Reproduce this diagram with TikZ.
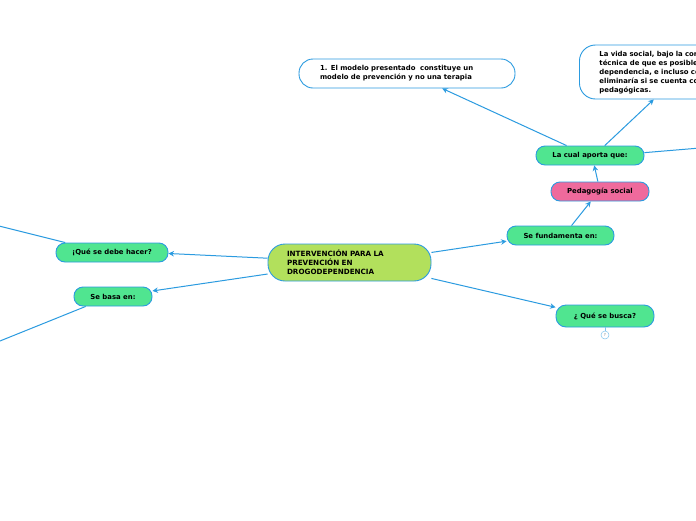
\documentclass[tikz,border=0pt]{standalone}
\usepackage{fontspec}
\setmainfont{DejaVu Sans}
\usetikzlibrary{arrows.meta}
\definecolor{lineblue}{HTML}{2B9BE0}
\definecolor{boxgreen}{HTML}{50E590}
\definecolor{boxlime}{HTML}{B2E05C}
\definecolor{boxpink}{HTML}{EF6A9C}
\begin{document}
\begin{tikzpicture}[x=1pt,y=-1pt,
  every node/.style={font=\bfseries\fontsize{6.9}{9}\selectfont, inner sep=0pt},
  base/.style={draw=lineblue, line width=0.9pt, rounded corners=9pt},
  gbox/.style={base, fill=boxgreen},
  pbox/.style={base, fill=boxpink},
  wbox/.style={base, fill=white, rounded corners=14pt, align=left},
  conn/.style={draw=lineblue, line width=1pt, -{Stealth[length=5.5pt,width=5.5pt]}},
  plain/.style={draw=lineblue, line width=1pt}]
\useasboundingbox (0,0) rectangle (696,520);
\fill[white] (0,0) rectangle (696,520);

\node[base, fill=boxlime, rounded corners=17pt, minimum width=163pt, minimum height=37pt, text width=125pt, align=left] (c) at (349.5,262.5)
  {\fontsize{7.2}{9}\selectfont INTERVENCIÓN PARA LA\\PREVENCIÓN EN\\DROGODEPENDENCIA};

\node[wbox, minimum width=216pt, minimum height=29pt, text width=174pt] (mod) at (407,73.5)
  {1. El modelo presentado\ \ constituye un\\modelo de prevención y no una terapia};

\node[wbox, anchor=west, rounded corners=16pt, minimum width=230pt, minimum height=54pt, text width=190pt] (vida) at (579,72)
  {La vida social, bajo la concepción\\técnica de que es posible reducir la\\dependencia, e incluso con el tiempo\\eliminaría si se cuenta con medidas\\pedagógicas.};

\node[gbox, minimum width=108pt, minimum height=19pt] (lca) at (590,155.5) {La cual aporta que:};
\node[pbox, minimum width=98pt, minimum height=19pt] (ped) at (600,191.5) {Pedagogía social};
\node[gbox, minimum width=107pt, minimum height=19pt] (sf) at (560.5,235.5) {Se fundamenta en:};
\node[gbox, minimum width=98pt, minimum height=22pt, rounded corners=10pt] (qb) at (605,316) {¿ Qué se busca?};
\node[gbox, minimum width=112pt, minimum height=19pt] (dh) at (112,252.5) {¡Qué se debe hacer?};
\node[gbox, minimum width=78pt, minimum height=19pt] (sb) at (113,296.5) {Se basa en:};

\node[circle, draw=lineblue!60, fill=white, line width=0.5pt, minimum size=8pt, font=\fontsize{4}{4}\selectfont, text=gray] (q) at (605,335) {?};
\draw[draw=lineblue!60, line width=0.5pt] (qb.south) -- (q.north);

\coordinate (offr) at (700,148);
\coordinate (offl1) at (-5,225);
\coordinate (offl2) at (-5,343);

\draw[conn] (c.7) -- (sf.186);
\draw[conn] (c.-11) -- (qb.170);
\draw[conn] (c.177.5) -- (dh.-1.5);
\draw[conn] (c.188) -- (sb.8);
\draw[conn] (sf.42) -- (ped.-133.5);
\draw[conn] (ped.102) -- (lca.-67);
\draw[conn] (lca.157.6) -- (mod.-23.7);
\draw[conn] (lca.34) -- (vida.-146);
\draw[plain] (lca.3.7) -- (offr);
\draw[plain] (dh.168) -- (offl1);
\draw[plain] (sb.-160) -- (offl2);
\end{tikzpicture}
\end{document}
